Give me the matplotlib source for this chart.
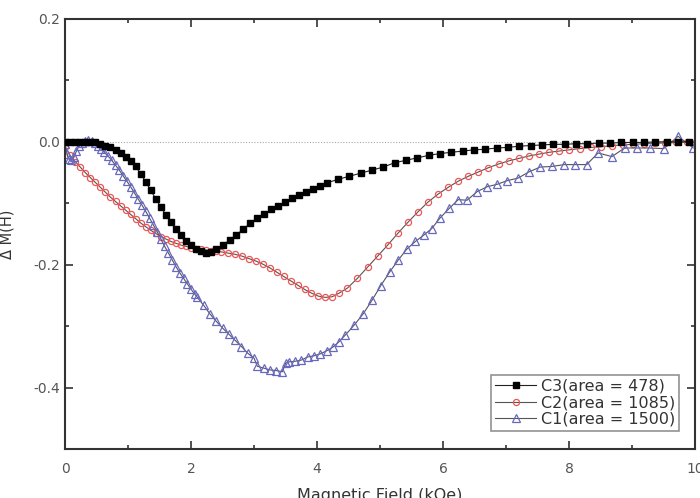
import matplotlib
matplotlib.use("Agg")
import matplotlib.pyplot as plt
from matplotlib.ticker import MultipleLocator

# ---------------- data ----------------
c3_x = [0.00, 0.08, 0.16, 0.24, 0.32, 0.40, 0.48, 0.56, 0.64, 0.72, 0.80, 0.88, 0.96,
        1.04, 1.12, 1.20, 1.28, 1.36, 1.44, 1.52, 1.60, 1.68, 1.76, 1.84, 1.92, 2.00,
        2.08, 2.16, 2.24, 2.32, 2.40,
        2.50, 2.61, 2.72, 2.83, 2.94, 3.05, 3.16, 3.27, 3.38, 3.49, 3.60, 3.71, 3.82,
        3.93, 4.04, 4.15,
        4.33, 4.51, 4.69, 4.87, 5.05, 5.23, 5.41, 5.59, 5.77, 5.95, 6.13, 6.31, 6.49,
        6.67, 6.85, 7.03, 7.21, 7.39, 7.57, 7.75, 7.93, 8.11, 8.29, 8.47, 8.65, 8.83,
        9.01, 9.19, 9.37, 9.55, 9.73, 9.91]
c3_y = [0.000, 0.000, 0.000, 0.000, 0.000, 0.000, -0.001, -0.003, -0.006, -0.009, -0.013,
        -0.018, -0.024, -0.031, -0.040, -0.052, -0.065, -0.079, -0.093, -0.106, -0.119,
        -0.131, -0.142, -0.152, -0.161, -0.168, -0.174, -0.178, -0.180, -0.179, -0.175,
        -0.168, -0.160, -0.151, -0.142, -0.132, -0.124, -0.117, -0.110, -0.104, -0.098,
        -0.092, -0.087, -0.082, -0.077, -0.072, -0.067,
        -0.061, -0.056, -0.051, -0.046, -0.041, -0.034, -0.030, -0.026, -0.022, -0.019,
        -0.017, -0.015, -0.013, -0.012, -0.010, -0.009, -0.007, -0.006, -0.005, -0.004,
        -0.004, -0.003, -0.003, -0.002, -0.002, -0.001, -0.001, -0.001, 0.000, 0.000,
        0.000, 0.000]

c2_x = [0.00, 0.08, 0.16, 0.24, 0.32, 0.40, 0.48, 0.56, 0.64, 0.72, 0.80, 0.88, 0.96,
        1.04, 1.12, 1.20, 1.28, 1.36, 1.44, 1.52, 1.60, 1.68, 1.76, 1.84, 1.92, 2.00,
        2.08, 2.16, 2.24, 2.32, 2.40, 2.48,
        2.59, 2.70, 2.81, 2.92, 3.03, 3.14, 3.25, 3.36, 3.47, 3.58, 3.69, 3.80, 3.91,
        4.02, 4.13, 4.24, 4.35,
        4.48, 4.64, 4.80, 4.96, 5.12, 5.28, 5.44, 5.60, 5.76, 5.92, 6.08, 6.24, 6.40,
        6.56, 6.72, 6.88, 7.04, 7.20, 7.36, 7.52, 7.68, 7.84, 8.00, 8.17, 8.34, 8.51,
        8.68, 8.85, 9.02, 9.19, 9.36, 9.53, 9.70, 9.87, 10.0]
c2_y = [-0.008, -0.022, -0.032, -0.041, -0.050, -0.058, -0.066, -0.074, -0.082, -0.090,
        -0.097, -0.104, -0.111, -0.118, -0.125, -0.132, -0.138, -0.144, -0.149, -0.154,
        -0.158, -0.162, -0.165, -0.168, -0.170, -0.172, -0.174, -0.175, -0.176, -0.177,
        -0.178, -0.179,
        -0.181, -0.183, -0.186, -0.190, -0.194, -0.199, -0.205, -0.212, -0.219, -0.226,
        -0.233, -0.240, -0.246, -0.251, -0.253, -0.252, -0.246,
        -0.238, -0.222, -0.204, -0.186, -0.168, -0.149, -0.131, -0.114, -0.098, -0.085,
        -0.074, -0.064, -0.056, -0.049, -0.042, -0.036, -0.031, -0.027, -0.023, -0.020,
        -0.017, -0.015, -0.013, -0.011, -0.009, -0.008, -0.006, -0.005, -0.004, -0.003,
        -0.002, -0.002, -0.001, 0.000, -0.002]

c1_x = [0.00, 0.03, 0.06, 0.10, 0.14, 0.18, 0.22, 0.27, 0.32, 0.37, 0.42, 0.47, 0.52,
        0.57, 0.62, 0.68, 0.74, 0.80, 0.86, 0.92, 0.98, 1.04, 1.10, 1.16, 1.22, 1.28,
        1.34, 1.40, 1.46, 1.52, 1.58, 1.64, 1.70, 1.76, 1.82, 1.88, 1.94, 2.00, 2.06,
        2.10, 2.20, 2.30, 2.40, 2.50, 2.60, 2.70, 2.80, 2.90, 3.00, 3.05, 3.15, 3.25,
        3.35, 3.45, 3.50, 3.55, 3.65, 3.75, 3.85, 3.95, 4.05, 4.15, 4.25, 4.35,
        4.45, 4.59, 4.73, 4.87, 5.01, 5.15, 5.29, 5.42, 5.56, 5.69, 5.82, 5.95, 6.10,
        6.24, 6.38, 6.54, 6.70, 6.86, 7.02, 7.19, 7.36, 7.54, 7.73, 7.92, 8.10, 8.28,
        8.46, 8.68, 8.88, 9.07, 9.28, 9.50, 9.73, 9.97]
c1_y = [-0.003, -0.020, -0.028, -0.030, -0.025, -0.015, -0.007, -0.002, 0.002, 0.003,
        0.002, -0.002, -0.007, -0.012, -0.017, -0.023, -0.030, -0.038, -0.046, -0.055,
        -0.064, -0.073, -0.083, -0.093, -0.103, -0.113, -0.124, -0.135, -0.146, -0.158,
        -0.170, -0.181, -0.192, -0.203, -0.213, -0.222, -0.231, -0.240, -0.248,
        -0.253, -0.266, -0.280, -0.292, -0.303, -0.313, -0.323, -0.333, -0.344, -0.352,
        -0.365, -0.368, -0.371, -0.372, -0.374, -0.360, -0.358, -0.357, -0.355, -0.350,
        -0.348, -0.345, -0.340, -0.334, -0.325,
        -0.314, -0.298, -0.280, -0.258, -0.234, -0.212, -0.192, -0.175, -0.162, -0.152,
        -0.141, -0.124, -0.108, -0.094, -0.095, -0.081, -0.073, -0.069, -0.063, -0.059,
        -0.049, -0.041, -0.040, -0.037, -0.037, -0.037, -0.018, -0.024, -0.010, -0.010,
        -0.010, -0.011, 0.009, -0.010]

labels = ["C3(area = 478)", "C2(area = 1085)", "C1(area = 1500)"]
x_ticks = [0, 2, 4, 6, 8, 10]
y_ticks = [-0.4, -0.2, 0.0, 0.2]
y_tick_labels = ["-0.4", "-0.2", "0.0", "0.2"]

# ---------------- figure ----------------
plt.rcParams['font.family'] = ['DejaVu Sans']
fig = plt.figure(figsize=(7.0, 4.98), dpi=100)
ax = fig.add_axes([0.093, 0.098, 0.900, 0.864])

line_col = "#555555"
ax.axhline(0.0, color="#aaaaaa", lw=0.8, ls=(0, (1, 1.5)), zorder=1)

ax.plot(c3_x, c3_y, color="#222222", lw=0.8, marker="s", ms=4.0,
        mfc="black", mec="black", label=labels[0], zorder=3)
ax.plot(c2_x, c2_y, color=line_col, lw=0.8, marker="o", ms=4.4,
        mfc="none", mec="#ee5555", mew=0.9, label=labels[1], zorder=2)
ax.plot(c1_x, c1_y, color=line_col, lw=0.8, marker="^", ms=5.2,
        mfc="none", mec="#6868c0", mew=0.9, label=labels[2], zorder=2)

ax.set_xlim(0, 10)
ax.set_ylim(-0.5, 0.2)
ax.set_xticks(x_ticks)
ax.set_yticks(y_ticks)
ax.set_yticklabels(y_tick_labels)
ax.xaxis.set_minor_locator(MultipleLocator(1))
ax.yaxis.set_minor_locator(MultipleLocator(0.1))
ax.tick_params(which="both", direction="in", top=True, right=True,
               color="#333333", width=1.2, labelcolor="#555555", labelsize=10)
ax.tick_params(which="major", length=6)
ax.tick_params(which="minor", length=3)
ax.tick_params(axis="x", pad=9)
for s in ax.spines.values():
    s.set_linewidth(1.5)
    s.set_color("#333333")

ax.set_xlabel("Magnetic Field (kOe)", fontsize=11.5, color="#333333", labelpad=9)
ax.set_ylabel("Δ M(H)", fontsize=10.5, color="#333333", labelpad=14)

leg = ax.legend(loc="lower right", bbox_to_anchor=(0.98, 0.035), fontsize=11.5,
                frameon=True, fancybox=False, edgecolor="#777777",
                handlelength=2.6, handletextpad=0.3, borderpad=0.25,
                labelspacing=0.1, borderaxespad=0.2)
leg.get_frame().set_linewidth(1.2)
for t in leg.get_texts():
    t.set_color("#333333")

fig.savefig("out.png", dpi=100)
